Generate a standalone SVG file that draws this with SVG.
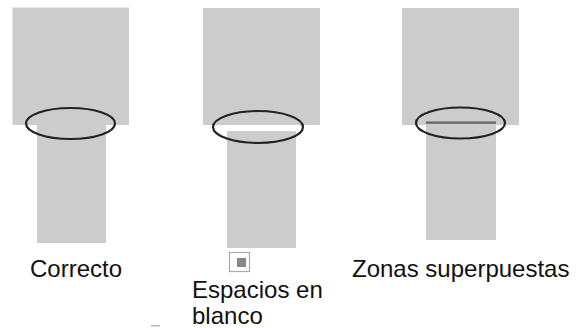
<svg xmlns="http://www.w3.org/2000/svg" width="587" height="328" viewBox="0 0 587 328">
<style>
.blk{fill:#cccccc}
.ring{fill:none;stroke:#222;stroke-width:2.2}
.lbl{font-family:"Liberation Sans",Arial,sans-serif;font-size:24px;fill:#111}
</style>
<rect width="587" height="328" fill="#ffffff"/>
<g id="correcto">
<rect class="blk" x="12.5" y="7.5" width="116.5" height="117.5"/>
<rect class="blk" x="37" y="125" width="69" height="118"/>
<ellipse class="ring" cx="70.5" cy="123.5" rx="44.5" ry="15.5"/>
<text class="lbl" x="30" y="277">Correcto</text>
</g>
<g id="espacios">
<rect class="blk" x="203" y="8" width="117" height="117"/>
<rect class="blk" x="227" y="131" width="69" height="117"/>
<ellipse class="ring" cx="258" cy="127" rx="45" ry="16"/>
<rect x="229.5" y="252.5" width="20" height="19" fill="#fff" stroke="#aaa" stroke-width="1.2"/>
<rect x="237" y="258" width="9" height="9" fill="#888"/>
<text class="lbl" x="192" y="298">Espacios en</text>
<text class="lbl" x="192" y="324">blanco</text>
<rect x="151" y="325" width="9" height="1.5" fill="#bbb"/>
</g>
<g id="superpuestas">
<rect class="blk" x="402" y="8" width="117" height="117"/>
<rect class="blk" x="426" y="125" width="70" height="115"/>
<line x1="426" y1="122.7" x2="496" y2="122.7" stroke="#666" stroke-width="2.2"/>
<ellipse class="ring" cx="460.5" cy="123" rx="44.5" ry="15.5"/>
<text class="lbl" x="352" y="277">Zonas superpuestas</text>
</g>
<g id="connectors"></g>
</svg>
